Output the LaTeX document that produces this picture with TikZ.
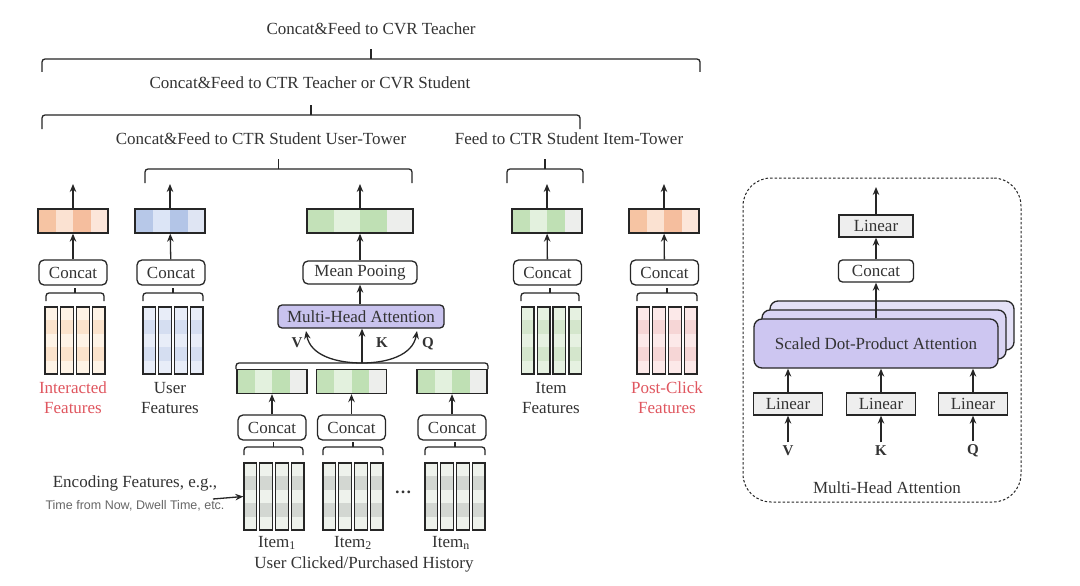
\documentclass[tikz,border=0pt]{standalone}
\usepackage{fontspec}
\setmainfont{Liberation Serif}
\setsansfont{Liberation Sans}
\usetikzlibrary{arrows.meta}
\definecolor{txt}{HTML}{333333}
\definecolor{lin}{HTML}{262626}
\definecolor{redt}{HTML}{E0565F}
\definecolor{orA}{HTML}{F6C4A3}\definecolor{orB}{HTML}{FBE2D2}\definecolor{orC}{HTML}{F5BE9E}\definecolor{orD}{HTML}{FCE6DA}
\definecolor{blA}{HTML}{B7C8E8}\definecolor{blB}{HTML}{DCE5F6}\definecolor{blC}{HTML}{B3C5E7}\definecolor{blD}{HTML}{DFE5F3}
\definecolor{grA}{HTML}{C3E1B8}\definecolor{grB}{HTML}{E3F1DE}\definecolor{grC}{HTML}{BFE0B4}\definecolor{grD}{HTML}{EDEEEC}
\definecolor{ifA}{HTML}{FEF3E6}\definecolor{ifB}{HTML}{FBE3CC}
\definecolor{ufA}{HTML}{E8EDF8}\definecolor{ufB}{HTML}{D5DEF1}
\definecolor{hfA}{HTML}{EEF2EC}\definecolor{hfB}{HTML}{D3D7D2}
\definecolor{tfA}{HTML}{E6F1E1}\definecolor{tfB}{HTML}{D4E6CC}
\definecolor{pfA}{HTML}{FCE9E9}\definecolor{pfB}{HTML}{F6D6D6}
\definecolor{mhafill}{HTML}{C9C3EE}
\definecolor{sdMain}{HTML}{CDC6F1}\definecolor{sdA}{HTML}{DAD5F4}\definecolor{sdB}{HTML}{E4E1F7}
\definecolor{linfill}{HTML}{EEEEEE}
% embedding bar: name, cx, cy, half width, 4 colours
\newcommand\myebar[8]{%
  \fill[#5] ({#2-#4},{#3-12}) rectangle ({#2-#4/2},{#3+12});
  \fill[#6] ({#2-#4/2},{#3-12}) rectangle ({#2},{#3+12});
  \fill[#7] ({#2},{#3-12}) rectangle ({#2+#4/2},{#3+12});
  \fill[#8] ({#2+#4/2},{#3-12}) rectangle ({#2+#4},{#3+12});
  \node[embar,minimum width={2*#4}] (#1) at (#2,#3) {};
}
% feature bars: name, cx, ytop, colour A, colour B
\newcommand\myfbars[5]{%
  \foreach \kk in {0,1,2,3}{%
    \pgfmathsetmacro\xl{#2-30+\kk*15.8}
    \foreach \bb/\cc in {0/#4,1/#5,2/#4,3/#5,4/#4}{%
      \fill[\cc] (\xl,{#3+\bb*13.4}) rectangle ({\xl+12.6},{#3+(\bb+1)*13.4});
    }
    \node[featbar] (#1-\kk) at ({\xl+6.3},{#3+33.5}) {};
  }
}
% bracket: x1, x2, y, depth, tick
\newcommand\mybrk[5]{%
  \draw[lin,rounded corners=3pt] (#1,{#3+#4}) -- (#1,#3) -- (#2,#3) -- (#2,{#3+#4});
  \draw[lin] ({(#1+#2)/2},#3) -- ({(#1+#2)/2},{#3-#5});
}
\begin{document}
\begin{tikzpicture}[x=1pt,y=-1pt,line width=1.3pt,
  every node/.style={font=\fontsize{17}{20}\selectfont,text=txt,inner sep=0pt},
  arr/.style={draw=lin,-{Stealth[length=8pt,width=6.5pt]}},
  embar/.style={draw=lin,minimum height=24pt},
  featbar/.style={draw=lin,minimum width=12.6pt,minimum height=67pt},
  cbox/.style={draw=lin,fill=white,rounded corners=5pt,minimum width=68pt,minimum height=25pt},
  lbox/.style={draw=lin,fill=linfill,minimum width=69pt,minimum height=22pt},
  lbl/.style={align=center},
  vkq/.style={font=\fontsize{15}{18}\selectfont\bfseries},
  sdpa/.style={draw=lin,rounded corners=8pt,minimum width=244pt,minimum height=49pt}]
\useasboundingbox (0,0) rectangle (1080,586);
\fill[white] (0,0) rectangle (1080,586);

% ---- titles and brackets ----
\node (t1) at (371,29) {Concat\&Feed to CVR Teacher};
\mybrk{42}{700}{59}{13}{10}
\node (t2) at (310,83) {Concat\&Feed to CTR Teacher or CVR Student};
\mybrk{42}{580}{115}{14}{10}
\node (t3) at (261,139) {Concat\&Feed to CTR Student User-Tower};
\mybrk{145}{412}{169}{14}{10}
\node (t4) at (569,139) {Feed to CTR Student Item-Tower};
\mybrk{507}{583}{169}{14}{10}

% ---- Interacted features ----
\myebar{eI}{73}{221}{35}{orA}{orB}{orC}{orD}
\node[cbox] (cI) at (73,272.5) {Concat};
\mybrk{46}{104}{293}{8}{5}
\myfbars{fI}{75}{307}{ifA}{ifB}
\node[lbl,text=redt] (lI) at (73,398) {Interacted\\Features};
\coordinate (oI) at (73,184);
\draw[arr] (cI) -- (eI);
\draw[arr] (eI) -- (oI);

% ---- User features ----
\myebar{eU}{170}{221}{35}{blA}{blB}{blC}{blD}
\node[cbox] (cU) at (171,272.5) {Concat};
\mybrk{143}{203}{293}{8}{5}
\myfbars{fU}{173}{307}{ufA}{ufB}
\node[lbl] (lU) at (170,398) {User\\Features};
\coordinate (oU) at (170,184);
\draw[arr] (cU) -- (eU);
\draw[arr] (eU) -- (oU);

% ---- Behaviour sequence ----
\myebar{eM}{360}{221}{53}{grA}{grB}{grC}{grD}
\node[draw=lin,fill=white,rounded corners=5pt,minimum width=114pt,minimum height=23pt] (mp) at (360,272.5) {Mean Pooing};
\node[draw=lin,fill=mhafill,rounded corners=4pt,minimum width=166pt,minimum height=23pt] (mha) at (361,316.5) {Multi-Head Attention};
\coordinate (oM) at (360,184);
\draw[arr] (eM) -- (oM);
\draw[arr] (mp) -- (eM);
\draw[arr] (mha.north -| mp) -- (mp);

\mybrk{236}{488}{363}{6}{0}
\coordinate (hub) at (362,363);
\coordinate (vend) at (306,331);
\coordinate (qend) at (417,331);
\draw[arr] (hub) -- (hub |- mha.south);
\draw[arr] (hub) to[out=180,in=-80] (vend);
\draw[arr] (hub) to[out=0,in=-100] (qend);
\node[vkq] (lV1) at (297,343) {V};
\node[vkq] (lK1) at (382,343) {K};
\node[vkq] (lQ1) at (428,344) {Q};

\myebar{eH1}{272}{381.5}{35}{grA}{grB}{grC}{grD}
\myebar{eH2}{351.5}{381.5}{35}{grA}{grB}{grC}{grD}
\myebar{eHn}{452}{381.5}{35}{grA}{grB}{grC}{grD}
\node[cbox] (cH1) at (272,427.5) {Concat};
\node[cbox] (cH2) at (351.5,427.5) {Concat};
\node[cbox] (cHn) at (452,427.5) {Concat};
\draw[arr] (cH1) -- (eH1);
\draw[arr] (cH2) -- (eH2);
\draw[arr] (cHn) -- (eHn);
\mybrk{244}{303}{447}{8}{5}
\mybrk{323}{383}{447}{8}{5}
\mybrk{425}{485}{447}{8}{5}
\myfbars{fH1}{274}{463}{hfA}{hfB}
\myfbars{fH2}{353}{463}{hfA}{hfB}
\myfbars{fHn}{455}{463}{hfA}{hfB}
\node (dots) at (403,492) {\textbf{\dots}};
\node (i1) at (277,543) {Item\textsubscript{1}};
\node (i2) at (353,543) {Item\textsubscript{2}};
\node (in) at (451,543) {Item\textsubscript{n}};
\node (hist) at (364,564) {User Clicked/Purchased History};

\node (enc1) at (135,483) {Encoding Features, e.g.,};
\node[font=\sffamily\fontsize{12.5}{15}\selectfont,text=black!60] (enc2) at (135,506) {Time from Now, Dwell Time, etc.};
\coordinate (encs) at (213,499);
\draw[arr] (encs) -- (fH1-0.west);

% ---- Item features ----
\myebar{eT}{547}{221}{35}{grA}{grB}{grC}{grD}
\node[cbox] (cT) at (547.5,272.5) {Concat};
\mybrk{521}{579}{293}{8}{5}
\myfbars{fT}{551.5}{307}{tfA}{tfB}
\node[lbl] (lT) at (551,398) {Item\\Features};
\coordinate (oT) at (547,184);
\draw[arr] (cT) -- (eT);
\draw[arr] (eT) -- (oT);

% ---- Post-click features ----
\myebar{eP}{664}{221}{35}{orA}{orB}{orC}{orD}
\node[cbox] (cP) at (664.5,272.5) {Concat};
\mybrk{637}{697}{293}{8}{5}
\myfbars{fP}{667}{307}{pfA}{pfB}
\node[lbl,text=redt] (lP) at (667,398) {Post-Click\\Features};
\coordinate (oP) at (664,184);
\draw[arr] (cP) -- (eP);
\draw[arr] (eP) -- (oP);

% ---- Multi-Head Attention detail ----
\node[draw=lin,line width=1pt,dash pattern=on 2.5pt off 2pt,rounded corners=28pt,minimum width=278pt,minimum height=324pt] (frame) at (882,340) {};
\node (ftitle) at (887,488) {Multi-Head Attention};
\node[sdpa,fill=sdB] (s3) at (892,325.5) {};
\node[sdpa,fill=sdA] (s2) at (884,334.5) {};
\node[sdpa,fill=sdMain] (sd) at (876,343.5) {Scaled Dot-Product Attention};
\node[draw=lin,fill=white,rounded corners=4pt,minimum width=75pt,minimum height=22pt] (cM) at (876,271) {Concat};
\node[lbox,minimum width=74pt] (lTop) at (876,226) {Linear};
\coordinate (mo) at (876,187);
\draw[arr] (sd.north) -- (cM.south);
\draw[arr] (cM) -- (lTop);
\draw[arr] (lTop) -- (mo);
\node[lbox] (lV) at (788,404) {Linear};
\node[lbox] (lK) at (881,404) {Linear};
\node[lbox] (lQ) at (973,404) {Linear};
\node[vkq] (nV) at (788,451) {V};
\node[vkq] (nK) at (881,451) {K};
\node[vkq] (nQ) at (973,451) {Q};
\draw[arr] ([yshift=3pt]nV.north) -- (lV);
\draw[arr] ([yshift=3pt]nK.north) -- (lK);
\draw[arr] ([yshift=3pt]nQ.north) -- (lQ);
\draw[arr] (lV) -- (lV |- sd.south);
\draw[arr] (lK) -- (lK |- sd.south);
\draw[arr] (lQ) -- (lQ |- sd.south);
\end{tikzpicture}
\end{document}
